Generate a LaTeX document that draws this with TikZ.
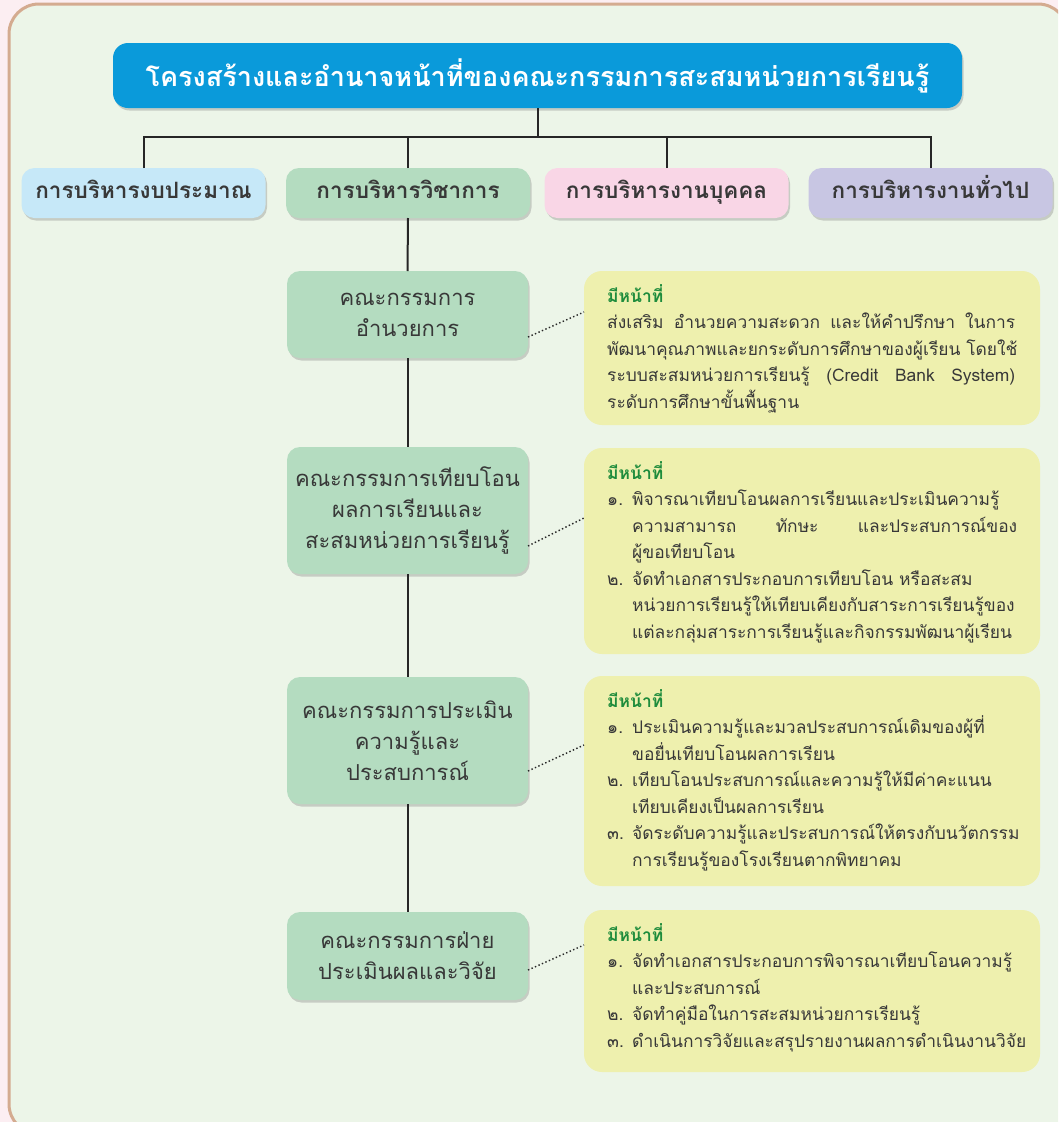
\documentclass[tikz,border=0pt]{standalone}
\usepackage{fontspec}
\setmainfont[Script=Thai]{Loma}
\usetikzlibrary{shadows}
\definecolor{pagebg}{HTML}{FCEEF2}
\definecolor{framebr}{HTML}{D4AB90}
\definecolor{framefill}{HTML}{ECF5E8}
\definecolor{titleblue}{HTML}{0A9ADA}
\definecolor{catblue}{HTML}{C6E8F8}
\definecolor{catgreen}{HTML}{B4DCC0}
\definecolor{catpink}{HTML}{F9D6E6}
\definecolor{catlav}{HTML}{C8C6E3}
\definecolor{dutyyellow}{HTML}{EEF0AE}
\definecolor{headgreen}{HTML}{1E8C3C}
\definecolor{txt}{HTML}{383838}
\newcommand{\numi}[1]{\makebox[25pt][l]{#1}}
\newcommand{\indi}{\hspace*{25pt}}
\begin{document}
\begin{tikzpicture}[x=1pt,y=-1pt,
  box/.style={rounded corners=13pt, drop shadow={opacity=0.35, shadow xshift=1.5pt, shadow yshift=-2.5pt}, inner sep=0pt, outer sep=0pt},
  cat/.style={box, minimum width=244pt, minimum height=50pt, text height=15pt, text depth=4pt, font=\fontsize{22.5}{25}\selectfont\bfseries, text=txt},
  comm/.style={box, fill=catgreen, minimum width=241pt, align=center, font=\fontsize{22}{31}\selectfont, text=txt},
  duty/.style={rounded corners=18pt, fill=dutyyellow, minimum width=456pt, inner sep=0pt, outer sep=0pt},
  dutytext/.style={anchor=north west, align=left, inner sep=0pt, font=\fontsize{17.4}{26.5}\selectfont, text=txt},
  link/.style={line width=2pt, draw=black!85},
  dots/.style={line width=1.4pt, dash pattern=on 1.4pt off 2.4pt, draw=black!85}
]
\clip (0,0) rectangle (1058,1122);
\fill[pagebg] (0,0) rectangle (1058,1122);
\draw[framebr, line width=3pt, fill=framefill, rounded corners=30pt] (9,4) rectangle (1068,1134);

% title and categories
\node[box, fill=titleblue, minimum width=849pt, minimum height=65pt, text=white,
      font=\fontsize{27}{30}\selectfont\bfseries, rounded corners=15pt] (title) at (537.5,75.5)
      {โครงสร้างและอำนาจหน้าที่ของคณะกรรมการสะสมหน่วยการเรียนรู้};
\node[cat, fill=catblue] (b1) at (143.5,193) {การบริหารงบประมาณ};
\node[cat, fill=catgreen] (b2) at (408,193) {การบริหารวิชาการ};
\node[cat, fill=catpink] (b3) at (666.5,193) {การบริหารงานบุคคล};
\node[cat, fill=catlav] (b4) at (930.5,193) {การบริหารงานทั่วไป};

\coordinate (bus) at (537.5,137);
\draw[link] (title.south) -- (bus);
\draw[link] (b1.north) |- (bus);
\draw[link] (b2.north) |- (bus);
\draw[link] (b3.north) |- (bus);
\draw[link] (b4.north) |- (bus);

% committees
\node[comm, minimum height=87pt] (c1) at (407.5,314.5) {คณะกรรมการ\\อำนวยการ};
\node[comm, minimum height=127pt] (c2) at (407.5,510.5) {คณะกรรมการเทียบโอน\\ผลการเรียนและ\\สะสมหน่วยการเรียนรู้};
\node[comm, minimum height=127pt] (c3) at (407.5,740.5) {คณะกรรมการประเมิน\\ความรู้และ\\ประสบการณ์};
\node[comm, minimum height=88pt] (c4) at (407.5,956) {คณะกรรมการฝ่าย\\ประเมินผลและวิจัย};

\draw[link] (b2.south) -- (c1.north);
\draw[link] (c1.south) -- (c2.north);
\draw[link] (c2.south) -- (c3.north);
\draw[link] (c3.south) -- (c4.north);

% duty boxes
\node[duty, minimum height=154pt] (y1) at (812,348) {};
\node[duty, minimum height=206pt] (y2) at (812,551) {};
\node[duty, minimum height=210pt] (y3) at (812,781) {};
\node[duty, minimum height=162pt] (y4) at (812,991) {};

\node[dutytext] (y1t) at ([xshift=23pt,yshift=-13pt]y1.north west) {%
{\color{headgreen}\bfseries มีหน้าที่}\\
\makebox[408pt][s]{ส่งเสริม\hfill อำนวยความสะดวก\hfill และให้คำปรึกษา\hfill ในการ}\\
พัฒนาคุณภาพและยกระดับการศึกษาของผู้เรียน โดยใช้\\
\makebox[408pt][s]{ระบบสะสมหน่วยการเรียนรู้\hfill (Credit\hfill Bank\hfill System)}\\
ระดับการศึกษาขั้นพื้นฐาน};

\node[dutytext] (y2t) at ([xshift=23pt,yshift=-13pt]y2.north west) {%
{\color{headgreen}\bfseries มีหน้าที่}\\
\numi{๑.}พิจารณาเทียบโอนผลการเรียนและประเมินความรู้\\
\indi\makebox[385pt][s]{ความสามารถ\hfill ทักษะ\hfill และประสบการณ์ของ}\\
\indi ผู้ขอเทียบโอน\\
\numi{๒.}จัดทำเอกสารประกอบการเทียบโอน หรือสะสม\\
\indi หน่วยการเรียนรู้ให้เทียบเคียงกับสาระการเรียนรู้ของ\\
\indi แต่ละกลุ่มสาระการเรียนรู้และกิจกรรมพัฒนาผู้เรียน};

\node[dutytext] (y3t) at ([xshift=23pt,yshift=-13pt]y3.north west) {%
{\color{headgreen}\bfseries มีหน้าที่}\\
\numi{๑.}ประเมินความรู้และมวลประสบการณ์เดิมของผู้ที่\\
\indi ขอยื่นเทียบโอนผลการเรียน\\
\numi{๒.}เทียบโอนประสบการณ์และความรู้ให้มีค่าคะแนน\\
\indi เทียบเคียงเป็นผลการเรียน\\
\numi{๓.}จัดระดับความรู้และประสบการณ์ให้ตรงกับนวัตกรรม\\
\indi การเรียนรู้ของโรงเรียนตากพิทยาคม};

\node[dutytext] (y4t) at ([xshift=23pt,yshift=-13pt]y4.north west) {%
{\color{headgreen}\bfseries มีหน้าที่}\\
\numi{๑.}จัดทำเอกสารประกอบการพิจารณาเทียบโอนความรู้\\
\indi และประสบการณ์\\
\numi{๒.}จัดทำคู่มือในการสะสมหน่วยการเรียนรู้\\
\numi{๓.}ดำเนินการวิจัยและสรุปรายงานผลการดำเนินงานวิจัย};

% dotted links
\draw[dots] ([yshift=-22.5pt]c1.east) -- ([yshift=36pt]y1.west);
\draw[dots] ([yshift=-35.5pt]c2.east) -- ([yshift=33pt]y2.west);
\draw[dots] ([yshift=-30.5pt]c3.east) -- ([yshift=36pt]y3.west);
\draw[dots] ([yshift=-14pt]c4.east) -- ([yshift=46pt]y4.west);
\end{tikzpicture}
\end{document}
